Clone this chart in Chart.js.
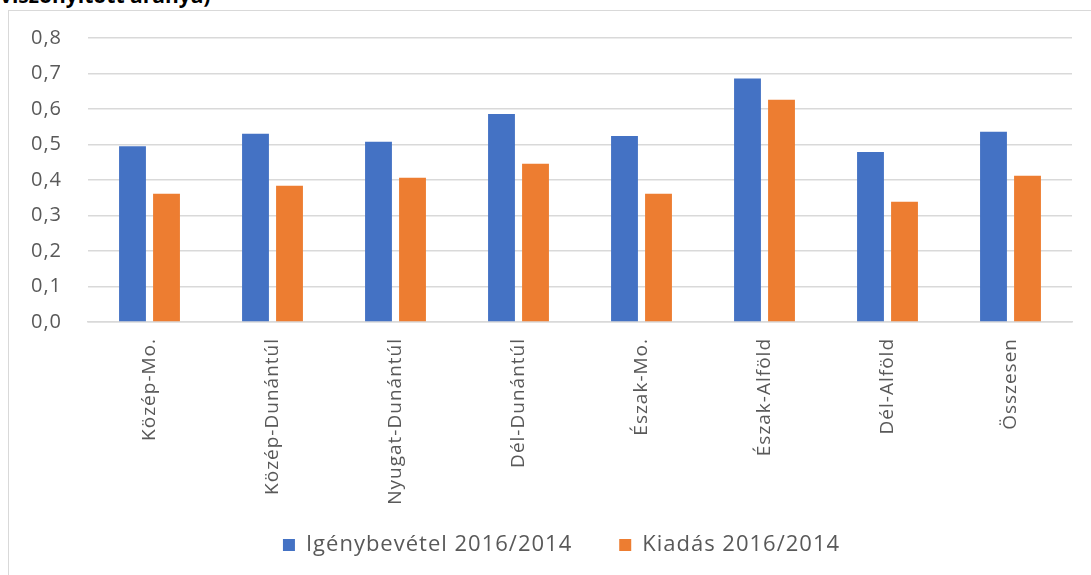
<!DOCTYPE html>
<html>
<head>
<meta charset="utf-8">
<script src="https://cdn.jsdelivr.net/npm/chart.js@4"></script>
<style>
  body { margin: 0; background: #fff; overflow: hidden; width: 1091px; height: 575px; position: relative; }
  #ttl { position: absolute; left: 0; top: -19px; font: bold 21px "Open Sans", sans-serif; color: #000; white-space: nowrap; }
  #box { position: absolute; left: 8px; top: 10px; width: 1100px; height: 600px; border: 1.5px solid #d9d9d9; }
  #wrap { position: absolute; left: 9px; top: 11px; width: 1082px; height: 564px; }
</style>
</head>
<body>
<div id="ttl">viszonyított aránya)</div>
<div id="box"></div>
<div id="wrap"><canvas id="grp"></canvas></div>
<script>
const ctx = document.getElementById("grp").getContext("2d")

const labels = ["Közép-Mo.", "Közép-Dunántúl", "Nyugat-Dunántúl", "Dél-Dunántúl", "Észak-Mo.", "Észak-Alföld", "Dél-Alföld", "Összesen"]
const igenybevetel = [0.495, 0.530, 0.508, 0.586, 0.524, 0.686, 0.479, 0.536]
const kiadas = [0.361, 0.384, 0.406, 0.446, 0.361, 0.626, 0.339, 0.412]

const font = "'Open Sans', sans-serif"
const grey = "#595959"

// the office-style text is a little spaced out
const spacing = {
  id: "spacing",
  afterLayout(chart) {
    // legend is tall because of its wide padding, let the x labels run into it
    chart.scales.x.bottom = chart.height
    // y labels sit further left of the grid than the tick padding gives
    chart.scales.y.left = 0
    chart.scales.y.right = 68
  },
  beforeDraw(chart) { chart.ctx.letterSpacing = "1px" },
  afterDraw(chart) { chart.ctx.letterSpacing = "0px" }
}

const data = {
  labels,
  datasets: [{
    label: "Igénybevétel 2016/2014",
    data: igenybevetel,
    backgroundColor: "#4472C4",
    categoryPercentage: 0.553,
    barPercentage: 0.79
  }, {
    label: "Kiadás 2016/2014",
    data: kiadas,
    backgroundColor: "#ED7D31",
    categoryPercentage: 0.553,
    barPercentage: 0.79
  }]
}

const config = {
  type: "bar",
  data,
  plugins: [spacing],
  options: {
    responsive: true,
    maintainAspectRatio: false,
    animation: false,
    layout: { padding: { top: 0, right: 19, bottom: 9, left: 4 } },
    plugins: {
      tooltip: { enabled: false },
      legend: {
        position: "bottom",
        labels: {
          boxWidth: 12, boxHeight: 12, padding: 47,
          color: grey,
          font: { family: font, size: 22 }
        }
      }
    },
    scales: {
      x: {
        grid: { display: false },
        border: { color: "#d9d9d9", width: 1.5 },
        ticks: {
          minRotation: 90, maxRotation: 90, padding: 8,
          color: grey,
          font: { family: font, size: 19 }
        },
        afterFit: function (s) { s.height = 165 }
      },
      y: {
        min: 0, max: 0.8,
        border: { display: false },
        grid: { color: "#d9d9d9", lineWidth: 1.5, drawTicks: false },
        ticks: {
          stepSize: 0.1, padding: 15,
          color: grey,
          font: { family: font, size: 20 },
          callback: function (value) {
            return value.toFixed(1).replace(".", ",")
          }
        },
        afterFit: function (s) { s.width = 75 }
      }
    }
  }
}

const grpM = new Chart(ctx, config)
</script>
</body>
</html>
